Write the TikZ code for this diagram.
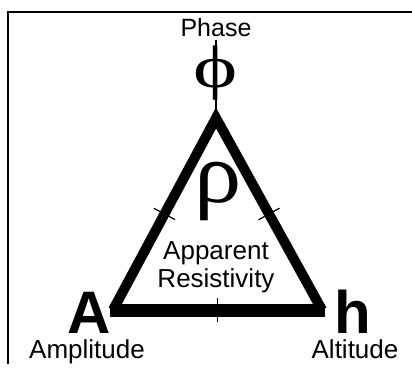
\documentclass[tikz,border=0pt]{standalone}
\usepackage{fontspec}
\setmainfont{Liberation Sans}
\newfontfamily\greekfont{Liberation Serif}
\usetikzlibrary{calc}

\begin{document}
\begin{tikzpicture}[x=1pt, y=-1pt,
    lbl/.style={inner sep=0pt, anchor=base, text depth=0pt,
                font=\fontsize{26}{30}\selectfont},
    big/.style={inner sep=0pt, anchor=base, text depth=0pt,
                font=\fontsize{60}{64}\selectfont\bfseries},
    greek/.style={inner sep=0pt, anchor=base, font=\fontsize{#1}{#1}\selectfont\greekfont},
    side/.style={line width=10pt, miter limit=20},
    tickmark/.style={line width=1.2pt}
  ]
  \useasboundingbox (0,0) rectangle (412,374);

  % frame
  \draw[line width=1.8pt] (8,364) -- (8,12) -- (412,12);

  % corners of the triangle
  \coordinate (top)   at (216,118);
  \coordinate (left)  at (113,310);
  \coordinate (right) at (322,310);
  \coordinate (stem)  at (216,40);

  \node[lbl, font=\fontsize{25}{29}\selectfont] (phase) at (216,37) {Phase};
  \draw[line width=1.3pt] (top) -- (stem);
  \node[greek=60, xscale=1.4] (phi) at (216,88) {ϕ};

  \draw[side] (left) -- (top) -- (right);
  \draw[line width=13pt] ($(left)+(-3,0)$) -- ($(right)+(3,0)$);

  % ticks at the middle of each side
  \foreach \a/\b in {left/top, top/right, left/right} {
    \draw[tickmark] ($($(\a)!0.5!(\b)$)!12pt!90:(\b)$)
                 -- ($($(\a)!0.5!(\b)$)!12pt!-90:(\b)$);
  }

  \node[greek=86, xscale=1.1] (rho) at (218,203) {ρ};
  \node[lbl] (app) at (216,259) {Apparent};
  \node[lbl] (res) at (216,287) {Resistivity};

  \node[big] (amp) at (89,333) {A};
  \node[big] (alt) at (353,333) {h};
  \node[lbl, text height=19pt] (ampl) at (87,358) {Amplitude};
  \node[lbl, text height=19pt] (altl) at (355,358) {Altitude};
\end{tikzpicture}
\end{document}
